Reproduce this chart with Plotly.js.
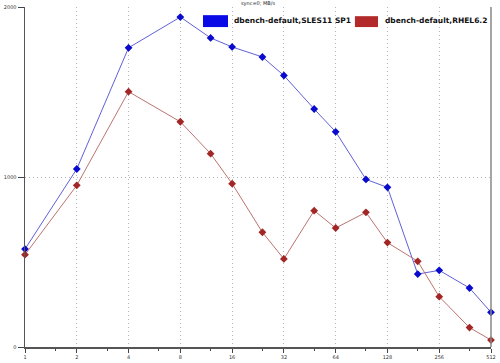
<!DOCTYPE html>
<html>
<head>
<meta charset="utf-8">
<script src="https://cdn.plot.ly/plotly-3.0.1.min.js"></script>
<style>html,body{margin:0;padding:0;background:#fff;}#chart{width:500px;height:363px;}</style>
</head>
<body>
<div id="chart"></div>
<script>
// Clients (x) and throughput MB/s
const clients = [1, 2, 4, 8, 12, 16, 24, 32, 48, 64, 96, 128, 192, 256, 384, 512];
const slesValues = [576, 1047, 1760, 1941, 1818, 1765, 1706, 1597, 1400, 1266, 986, 939, 429, 451, 347, 204];
const rhelValues = [543, 951, 1502, 1325, 1137, 961, 675, 518, 802, 700, 792, 614, 504, 296, 114, 41];
const seriesNames = ["dbench-default,SLES11 SP1", "dbench-default,RHEL6.2"];
const xTickVals = [1, 2, 4, 8, 16, 32, 64, 128, 256, 512];
const xTickText = ["1", "2", "4", "8", "16", "32", "64", "128", "256", "512"];
const xMinorVals = [1.5, 3, 6, 12, 24, 48, 96, 192, 384];
const yTickVals = [0, 1000, 2000];
const chartTitle = "sync=0; MB/s";

const traces = [
  {
    x: clients, y: slesValues, name: seriesNames[0], type: "scatter", mode: "lines+markers",
    line: {color: "#6060d8", width: 1},
    marker: {symbol: "diamond", size: 6, color: "#0a0acc"},
    cliponaxis: false, showlegend: false
  },
  {
    x: clients, y: rhelValues, name: seriesNames[1], type: "scatter", mode: "lines+markers",
    line: {color: "#bb7470", width: 1},
    marker: {symbol: "diamond", size: 6, color: "#a22626"},
    cliponaxis: false, showlegend: false
  }
];

const tickFont = {family: "DejaVu Sans", size: 5, color: "#333"};
const legFont = {family: "DejaVu Sans", size: 7.5, color: "#111", weight: "bold"};

const layout = {
  width: 500, height: 363,
  margin: {l: 25, r: 9, t: 7, b: 16, pad: 0},
  paper_bgcolor: "#fff", plot_bgcolor: "#fff",
  title: {text: chartTitle, font: {family: "DejaVu Sans", size: 5, color: "#222"},
          x: 0.5, xref: "paper", y: 0.99, yref: "container", yanchor: "middle"},
  xaxis: {
    type: "log", range: [0, Math.log10(512)],
    tickmode: "array", tickvals: xTickVals, ticktext: xTickText,
    ticks: "outside", ticklen: 4, tickcolor: "#444", tickwidth: 1,
    tickfont: tickFont,
    showgrid: true, gridcolor: "#b4b4b4", griddash: "1px,3px", gridwidth: 1,
    minor: {tickmode: "array", tickvals: xMinorVals, ticks: "outside", ticklen: 2, tickcolor: "#444", showgrid: false},
    showline: true, linecolor: "#555", linewidth: 1.5, mirror: false,
    zeroline: false, fixedrange: true
  },
  yaxis: {
    range: [0, 2000],
    tickmode: "array", tickvals: yTickVals, ticktext: ["0", "1000", "2000"],
    ticks: "outside", ticklen: 6, tickcolor: "#444", tickwidth: 1,
    tickfont: tickFont,
    showgrid: true, gridcolor: "#b4b4b4", griddash: "1px,3px", gridwidth: 1,
    showline: true, linecolor: "#555", linewidth: 1.5,
    zeroline: false, fixedrange: true
  },
  shapes: [
    {type: "line", xref: "paper", yref: "paper", x0: 1, x1: 1, y0: 0, y1: 1, line: {color: "#888", width: 1.5}},
    {type: "rect", xref: "paper", yref: "paper", x0: 0.382, x1: 0.4356, y0: 0.941, y1: 0.976, fillcolor: "#0a0ae6", line: {width: 0}},
    {type: "rect", xref: "paper", yref: "paper", x0: 0.708, x1: 0.7575, y0: 0.941, y1: 0.973, fillcolor: "#b22a2a", line: {width: 0}}
  ],
  annotations: [
    {text: seriesNames[0], xref: "paper", yref: "paper", x: 0.444, y: 0.959, xanchor: "left", yanchor: "middle", showarrow: false, font: legFont},
    {text: seriesNames[1], xref: "paper", yref: "paper", x: 0.768, y: 0.959, xanchor: "left", yanchor: "middle", showarrow: false, font: legFont}
  ],
  showlegend: false
};

Plotly.newPlot("chart", traces, layout, {staticPlot: true, displayModeBar: false});
</script>
</body>
</html>
